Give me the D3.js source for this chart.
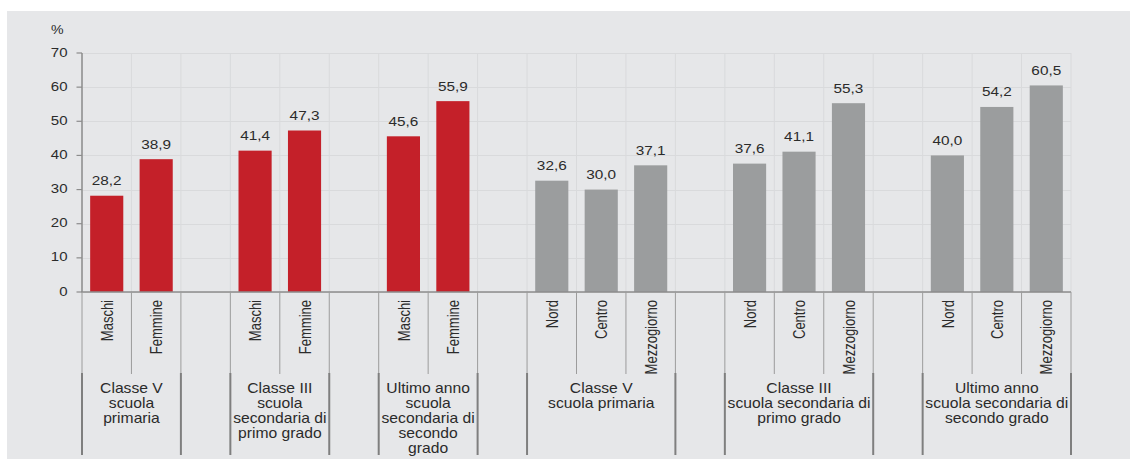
<!DOCTYPE html>
<html>
<head>
<meta charset="utf-8">
<script src="https://cdn.jsdelivr.net/npm/d3@7"></script>
<style>
  html, body { margin: 0; padding: 0; background: #ffffff; }
  svg { display: block; }
  text { font-family: "Liberation Sans", Arial, Helvetica, sans-serif; fill: #2b2b2b; }
</style>
</head>
<body>
<svg id="chart" width="1130" height="459"></svg>
<script>
// ---- DATA ----
const groupLabels = [
  ["Classe V", "scuola", "primaria"],
  ["Classe III", "scuola", "secondaria di", "primo grado"],
  ["Ultimo anno", "scuola", "secondaria di", "secondo", "grado"],
  ["Classe V", "scuola primaria"],
  ["Classe III", "scuola secondaria di", "primo grado"],
  ["Ultimo anno", "scuola secondaria di", "secondo grado"]
];
const groupCategories = [
  ["Maschi", "Femmine"],
  ["Maschi", "Femmine"],
  ["Maschi", "Femmine"],
  ["Nord", "Centro", "Mezzogiorno"],
  ["Nord", "Centro", "Mezzogiorno"],
  ["Nord", "Centro", "Mezzogiorno"]
];
const groupValues = [
  [28.2, 38.9],
  [41.4, 47.3],
  [45.6, 55.9],
  [32.6, 30.0, 37.1],
  [37.6, 41.1, 55.3],
  [40.0, 54.2, 60.5]
];
const groupSeries = ["sesso", "sesso", "sesso", "ripartizione", "ripartizione", "ripartizione"];
const yTicks = [0, 10, 20, 30, 40, 50, 60, 70];
const yUnit = "%";

// ---- BUILD SLOTS ----
const slots = [];   // {key, label, value, series, group}
groupCategories.forEach((cats, g) => {
  if (g > 0) slots.push({ key: "gap" + g, label: "", value: null, series: null, group: -1 });
  cats.forEach((c, i) => slots.push({ key: g + "-" + c, label: c, value: groupValues[g][i], series: groupSeries[g], group: g }));
});

const svg = d3.select("#chart");
const left = 82, right = 1071, yTop = 53, yBase = 292;

const x = d3.scaleBand().domain(slots.map(d => d.key)).range([left, right]).paddingInner(0.33).paddingOuter(0.165);
const y = d3.scaleLinear().domain([0, 70]).range([yBase, yTop]);
const color = d3.scaleOrdinal().domain(["sesso", "ripartizione"]).range(["#c42029", "#9b9d9e"]);
const step = x.step();
const slotLeft = d => x(d.key) - step * 0.165;
const fmt = v => d3.format(".1f")(v).replace(".", ",");

// panel background
svg.append("rect").attr("x", 7).attr("y", 11).attr("width", 1123).attr("height", 448).attr("fill", "#e6e7e9");

// boundaries between slots
const boundaries = slots.map(slotLeft).concat([right]);

// horizontal gridlines
svg.append("g").selectAll("line").data(yTicks).join("line")
  .attr("x1", left).attr("x2", right)
  .attr("y1", d => Math.round(y(d)) + 0.5).attr("y2", d => Math.round(y(d)) + 0.5)
  .attr("stroke", "#d9dadc").attr("stroke-width", 1);

// vertical gridlines
svg.append("g").selectAll("line").data(boundaries).join("line")
  .attr("x1", d => d).attr("x2", d => d)
  .attr("y1", yTop).attr("y2", yBase)
  .attr("stroke", "#d9dadc").attr("stroke-width", 1);

// bars
const bars = slots.filter(d => d.value !== null);
svg.append("g").selectAll("rect").data(bars).join("rect")
  .attr("x", d => x(d.key)).attr("width", x.bandwidth())
  .attr("y", d => y(d.value)).attr("height", d => y(0) - y(d.value))
  .attr("fill", d => color(d.series));

// value labels
svg.append("g").selectAll("text").data(bars).join("text")
  .attr("text-anchor", "middle")
  .attr("font-size", 13)
  .attr("transform", d => `translate(${x(d.key) + x.bandwidth() / 2},${y(d.value) - 10.5}) scale(1.18,1)`)
  .text(d => fmt(d.value));

// y axis
const yAxis = svg.append("g");
yAxis.append("line").attr("x1", left).attr("x2", left).attr("y1", yTop).attr("y2", yBase)
  .attr("stroke", "#8c8c8c").attr("stroke-width", 1.5);
yAxis.selectAll(".tk").data(yTicks).join("line").attr("class", "tk")
  .attr("x1", 76.5).attr("x2", left).attr("y1", d => y(d)).attr("y2", d => y(d))
  .attr("stroke", "#8c8c8c").attr("stroke-width", 1.2);
yAxis.selectAll("text").data(yTicks).join("text")
  .attr("text-anchor", "end").attr("font-size", 12)
  .attr("transform", d => `translate(67.5,${y(d) + 3.5}) scale(1.25,1)`)
  .text(d => d);
svg.append("text").attr("font-size", 12)
  .attr("transform", "translate(51,34) scale(1.18,1)").text(yUnit);

// x axis line
svg.append("line").attr("x1", left - 0.75).attr("x2", right).attr("y1", yBase).attr("y2", yBase)
  .attr("stroke", "#8c8c8c").attr("stroke-width", 1.5);

// category separators
svg.append("g").selectAll("line").data(boundaries).join("line")
  .attr("x1", d => d).attr("x2", d => d).attr("y1", yBase).attr("y2", 374)
  .attr("stroke", "#9c9c9c").attr("stroke-width", 1);

// group separators (group edges)
const groupEdges = [];
groupCategories.forEach((cats, g) => {
  const first = slots.find(s => s.group === g);
  const lastIdx = slots.map(s => s.group).lastIndexOf(g);
  groupEdges.push(slotLeft(first));
  groupEdges.push(slotLeft(slots[lastIdx]) + step);
});
svg.append("g").selectAll("line").data(groupEdges).join("line")
  .attr("x1", d => d).attr("x2", d => d).attr("y1", 373).attr("y2", 455)
  .attr("stroke", "#7f7f7f").attr("stroke-width", 2);

// category labels (rotated)
svg.append("g").selectAll("text").data(bars).join("text")
  .attr("text-anchor", "end").attr("font-size", 13).attr("dy", "0.35em")
  .attr("transform", d => `translate(${x(d.key) + x.bandwidth() / 2 + 0.5},300) rotate(-90) scale(1,1.25)`)
  .text(d => d.label);

// group labels
groupLabels.forEach((lines, g) => {
  const cx = (groupEdges[2 * g] + groupEdges[2 * g + 1]) / 2;
  svg.append("g").selectAll("text").data(lines).join("text")
    .attr("text-anchor", "middle").attr("font-size", 14)
    .attr("transform", (d, i) => `translate(${cx},${393.3 + i * 15}) scale(1.12,1)`)
    .text(d => d);
});
</script>
</body>
</html>
